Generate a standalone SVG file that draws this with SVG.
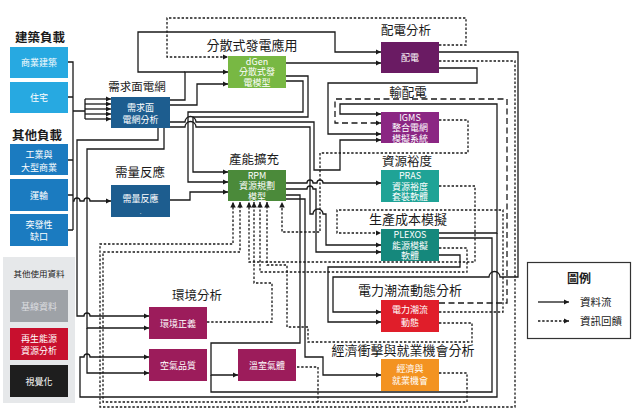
<svg xmlns="http://www.w3.org/2000/svg" width="637" height="415" viewBox="0 0 637 415">
<defs>
<marker id="ar" viewBox="0 0 6 6" refX="6" refY="3" markerWidth="5.5" markerHeight="5.5" markerUnits="userSpaceOnUse" orient="auto"><path d="M0,0 L6,3 L0,6 z" fill="#1a1a1a"/></marker>
</defs>
<style>
text{font-family:"Noto Sans CJK TC","Noto Sans CJK SC",sans-serif;}
.t{font-size:12.5px;fill:#1a1a1a;text-anchor:middle;}
.tb{font-size:12.5px;fill:#1a1a1a;text-anchor:middle;font-weight:bold;}
.n{font-size:9px;fill:#ffffff;text-anchor:middle;}
.s{fill:none;stroke:#1a1a1a;stroke-width:1.3;}
.a{marker-end:url(#ar);}
.fb{fill:none;stroke:#1a1a1a;stroke-width:1.3;stroke-dasharray:2.4 1.8;}
.ld{fill:none;stroke:#1a1a1a;stroke-width:1.3;stroke-dasharray:6 3.5;}
</style>
<rect width="637" height="415" fill="#ffffff"/>

<rect x="3" y="257" width="72" height="146" fill="#e6e8ea"/>
<text x="39" y="277" style="font-size:8.5px;fill:#1a1a1a;text-anchor:middle">其他使用資料</text>

<g id="titles">
<text class="tb" x="40" y="41.5">建築負載</text>
<text class="tb" x="37" y="139.5">其他負載</text>
<text class="t" x="137" y="91" style="font-size:11.5px">需求面電網</text>
<text class="t" x="140" y="177">需量反應</text>
<text class="t" x="252" y="50" style="font-size:13px">分散式發電應用</text>
<text class="t" x="406" y="34.5">配電分析</text>
<text class="t" x="408" y="96.5">輸配電</text>
<text class="t" x="254" y="163.5">產能擴充</text>
<text class="t" x="407" y="165.5">資源裕度</text>
<text class="t" x="408" y="223.5" style="font-size:13px">生產成本模擬</text>
<text class="t" x="410" y="294.5" style="font-size:13px">電力潮流動態分析</text>
<text class="t" x="403" y="354.5" style="font-size:13px">經濟衝擊與就業機會分析</text>
<text class="t" x="197" y="299.5">環境分析</text>
</g>

<g id="connectors">
<path class="s" d="M68,62 H73 V230 M68,97 H73 M68,160 H73 M68,195 H73 M68,230 H73 M73,111 H85 M85,99 V119"/>
<path class="s a" d="M85,99 H111"/>
<path class="s a" d="M85,104 H111"/>
<path class="s a" d="M85,109 H111"/>
<path class="s a" d="M85,114 H111"/>
<path class="s a" d="M85,119 H111"/>
<path class="s a" d="M73,201 H74 a3,3 0 0 1 6,0 H84 a3,3 0 0 1 6,0 H111"/>
<path class="s a" d="M170,100 H185 V72 H228"/>
<path class="s a" d="M185,72 H138 V32 H335 V52 H381"/>
<path class="s a" d="M170,105 H197 V84 H228"/>
<path class="s a" d="M170,122 H185 a5.5,5.5 0 0 1 11,0 H314 V170 H340 V140 H381"/>
<path class="s a" d="M170,127 H185 a5.5,5.5 0 0 1 11,0 H310 V214 H313 a5,5 0 0 1 10,0 H326 V245 H381"/>
<path class="s a" d="M158,128 V140 H77 V316 H84 a3,3 0 0 1 6,0 H149"/>
<path class="s a" d="M164,128 V149 H87 V328 H149"/>
<path class="s a" d="M87,328 V373 H149"/>
<path class="s a" d="M286,63 H381"/>
<path class="s a" d="M286,76 H308 V117 H193 V172 H228"/>
<path class="s a" d="M286,81 H303 V112 H188 V182 H228"/>
<path class="s a" d="M170,200 H190 V192 H228"/>
<path class="s a" d="M286,183 H307 a3,3 0 0 1 6,0 H317 a3,3 0 0 1 6,0 H381"/>
<path class="s a" d="M286,189 H307 a3,3 0 0 1 6,0 H316 V252 H381"/>
<path class="s a" d="M286,195 H300 V343 H211 V375 H238"/>
<path class="s a" d="M286,199 H305 V357 H323 V375 H381"/>
<path class="s a" d="M439,68 H477 V83 H328 V134 H381"/>
<path class="s a" d="M439,52 H518 V277 H500 a5.5,5.5 0 0 0 -11,0 H333 V312 H381"/>
<path class="s a" d="M439,233 H497 V104 H340 V114 H381"/>
<path class="s a" d="M497,233 V397 H80 V357 H84 a3,3 0 0 1 6,0 H149"/>
<path class="s" d="M439,238 H492 V392 H211 V375"/>
<path class="s a" d="M439,255 H460 V267 H328 V322 H381"/>
<path class="fb a" d="M439,45 H466 V18 H167 V57 H228"/>
<path class="ld a" d="M439,303 H507 V99 H335 V123 H381"/>
<path class="fb a" d="M439,61 H515 V407 H100 V244 H233 V202"/>
<path class="fb a" d="M439,373 H467 V402 H103 V252 H240 V202"/>
<path class="fb" d="M297,367 H318 V402"/>
<path class="fb a" d="M439,186 H475 V262 H249 V202"/>
<path class="fb a" d="M439,248 H467 V272 H260 V202"/>
<path class="fb a" d="M207,322 H272 V283 H254 V202"/>
<path class="fb a" d="M439,323 H472 V342 H308 V327 H287 V265 H267 V202"/>
<path class="fb a" d="M439,120 H468 V153 H320 V232 H282 V202"/>
<path class="fb a" d="M439,312 H503 V210 H337 V233 H381"/>
</g>

<g id="n-commercial"><rect x="10" y="47" width="58" height="31" fill="#27a9e1"/><text class="n" x="39" y="66">商業建築</text></g>
<g id="n-residential"><rect x="10" y="82" width="58" height="31" fill="#27a9e1"/><text class="n" x="39" y="101">住宅</text></g>
<g id="n-industrial"><rect x="10" y="144" width="58" height="31" fill="#1b7bc0"/><text class="n" x="39" y="158">工業與<tspan x="39" dy="12.5">大型商業</tspan></text></g>
<g id="n-transport"><rect x="10" y="179" width="58" height="32" fill="#1b7bc0"/><text class="n" x="39" y="198.5">運輸</text></g>
<g id="n-gap"><rect x="10" y="214" width="58" height="32" fill="#1b7bc0"/><text class="n" x="39" y="227.5">突發性<tspan x="39" dy="12.5">缺口</tspan></text></g>
<g id="n-baseline"><rect x="10" y="290" width="58" height="32" fill="#9ea2a7"/><text class="n" x="39" y="309.5" style="fill:#dcdde0">基線資料</text></g>
<g id="n-renewable"><rect x="10" y="328" width="58" height="32" fill="#c8102e"/><text class="n" x="39" y="341.5">再生能源<tspan x="39" dy="12.5">資源分析</tspan></text></g>
<g id="n-visual"><rect x="10" y="365" width="58" height="32" fill="#1e1e1e"/><text class="n" x="39" y="384.5">視覺化</text></g>

<g id="n-demand"><rect x="111" y="97" width="59" height="31" fill="#1d5d8f"/><text class="n" x="140.5" y="110.5">需求面<tspan x="140.5" dy="12.5">電網分析</tspan></text></g>
<g id="n-dr"><rect x="111" y="185" width="59" height="32" fill="#1d5d8f"/><text class="n" x="140.5" y="201.5">需量反應</text><text x="140.5" y="214" style="font-size:6px;fill:#ffffff;text-anchor:middle">.</text></g>
<g id="n-dgen"><rect x="228" y="56" width="58" height="32" fill="#78b843"/><text class="n" x="257" y="64.5">dGen<tspan x="257" dy="10.5">分散式發</tspan><tspan x="257" dy="10.5">電模型</tspan></text></g>
<g id="n-rpm"><rect x="228" y="170" width="58" height="31" fill="#4b8a3a"/><text class="n" x="257" y="178.5">RPM<tspan x="257" dy="10.8">資源規劃</tspan><tspan x="257" dy="10.5">模型</tspan></text></g>
<g id="n-dist"><rect x="381" y="42" width="58" height="31" fill="#6a1b63"/><text class="n" x="410" y="61">配電</text></g>
<g id="n-igms"><rect x="381" y="112" width="58" height="31" fill="#8b2683"/><text class="n" x="410" y="120.5">IGMS<tspan x="410" dy="10.5">整合電網</tspan><tspan x="410" dy="10.5">模擬系統</tspan></text></g>
<g id="n-pras"><rect x="381" y="170" width="58" height="32" fill="#1fa396"/><text class="n" x="410" y="179">PRAS<tspan x="410" dy="10.5">資源裕度</tspan><tspan x="410" dy="10.5">套裝軟體</tspan></text></g>
<g id="n-plexos"><rect x="381" y="229" width="58" height="32" fill="#15887c"/><text class="n" x="410" y="238">PLEXOS<tspan x="410" dy="10.5">能源模擬</tspan><tspan x="410" dy="10.5">軟體</tspan></text></g>
<g id="n-powerflow"><rect x="381" y="300" width="58" height="32" fill="#e01e2a"/><text class="n" x="410" y="313">電力潮流<tspan x="410" dy="12.5">動態</tspan></text></g>
<g id="n-econ"><rect x="381" y="359" width="58" height="32" fill="#f39321"/><text class="n" x="410" y="371.5">經濟與<tspan x="410" dy="12.5">就業機會</tspan></text></g>
<g id="n-ej"><rect x="149" y="307" width="58" height="32" fill="#9c1c5b"/><text class="n" x="178" y="326.5">環境正義</text></g>
<g id="n-air"><rect x="149" y="349" width="58" height="32" fill="#9c1c5b"/><text class="n" x="178" y="368.5">空氣品質</text></g>
<g id="n-ghg"><rect x="238" y="349" width="58" height="32" fill="#9c1c5b"/><text class="n" x="267" y="368.5">溫室氣體</text></g>

<g id="legend">
<rect x="527.5" y="262.5" width="103" height="76" fill="#ffffff" stroke="#333333" stroke-width="1.2"/>
<text class="tb" x="579" y="282.5" style="font-size:12px">圖例</text>
<path class="s a" d="M538,302 H569"/>
<text x="580" y="305.5" style="font-size:10.5px;fill:#1a1a1a">資料流</text>
<path class="fb a" d="M538,321 H569"/>
<text x="580" y="325" style="font-size:10.5px;fill:#1a1a1a">資訊回饋</text>
</g>
</svg>
